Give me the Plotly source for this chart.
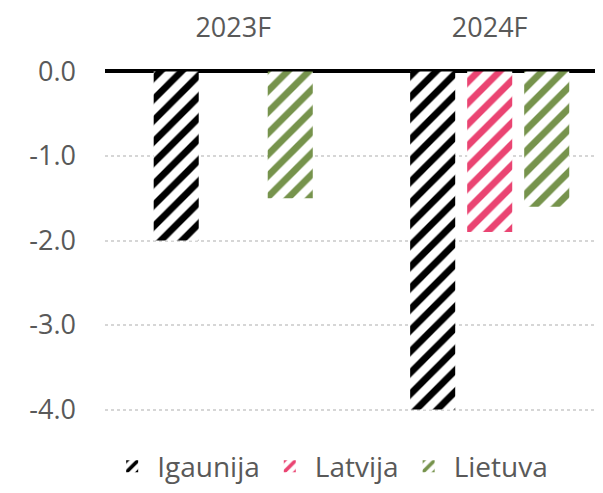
import plotly.graph_objects as go

categories = ["2023F", "2024F"]
series_names = ["Igaunija", "Latvija", "Lietuva"]
igaunija = [-2.0, -4.0]
latvija = [None, -1.9]
lietuva = [-1.5, -1.6]
series_values = [igaunija, latvija, lietuva]
colors = ["#000000", "#EA4472", "#76934C"]
y_ticks = [0, -1, -2, -3, -4]
y_tick_labels = ["0.0", "-1.0", "-2.0", "-3.0", "-4.0"]

FONT = "Open Sans"
GRAY = "#595959"

fig = go.Figure()
for name, vals, col in zip(series_names, series_values, colors):
    fig.add_trace(go.Bar(
        x=categories, y=vals, name=name,
        marker=dict(
            color="white",
            line=dict(width=0),
            pattern=dict(shape="/", fgcolor=col, bgcolor="white", fgopacity=1,
                         size=15, solidity=0.45, fillmode="replace"),
        ),
    ))

fig.update_layout(
    width=603, height=493,
    margin=dict(l=97, r=0, t=53, b=83),
    paper_bgcolor="white", plot_bgcolor="white",
    barmode="group", bargap=0.333, bargroupgap=0.21,
    font=dict(family=FONT, size=27, color=GRAY),
    showlegend=True,
    legend=dict(orientation="h", x=0.445, xanchor="center", y=-0.137,
                yanchor="middle", font=dict(size=28, color=GRAY),
                itemwidth=40, traceorder="normal"),
    xaxis=dict(type="category", side="top", range=[-0.5, 1.473],
               showgrid=False, showline=False, ticks="",
               ticklabelstandoff=20, tickfont=dict(size=27, color=GRAY)),
    yaxis=dict(range=[-4.1, 0.1], tickvals=y_ticks, ticktext=y_tick_labels,
               showgrid=True, gridcolor="#D6D6D6", gridwidth=1.5, griddash="dot",
               zeroline=True, zerolinecolor="black", zerolinewidth=4,
               showline=False, ticks="", ticklabelstandoff=28,
               tickfont=dict(size=27, color=GRAY), layer="above traces"),
)

fig.write_html("out.html")
